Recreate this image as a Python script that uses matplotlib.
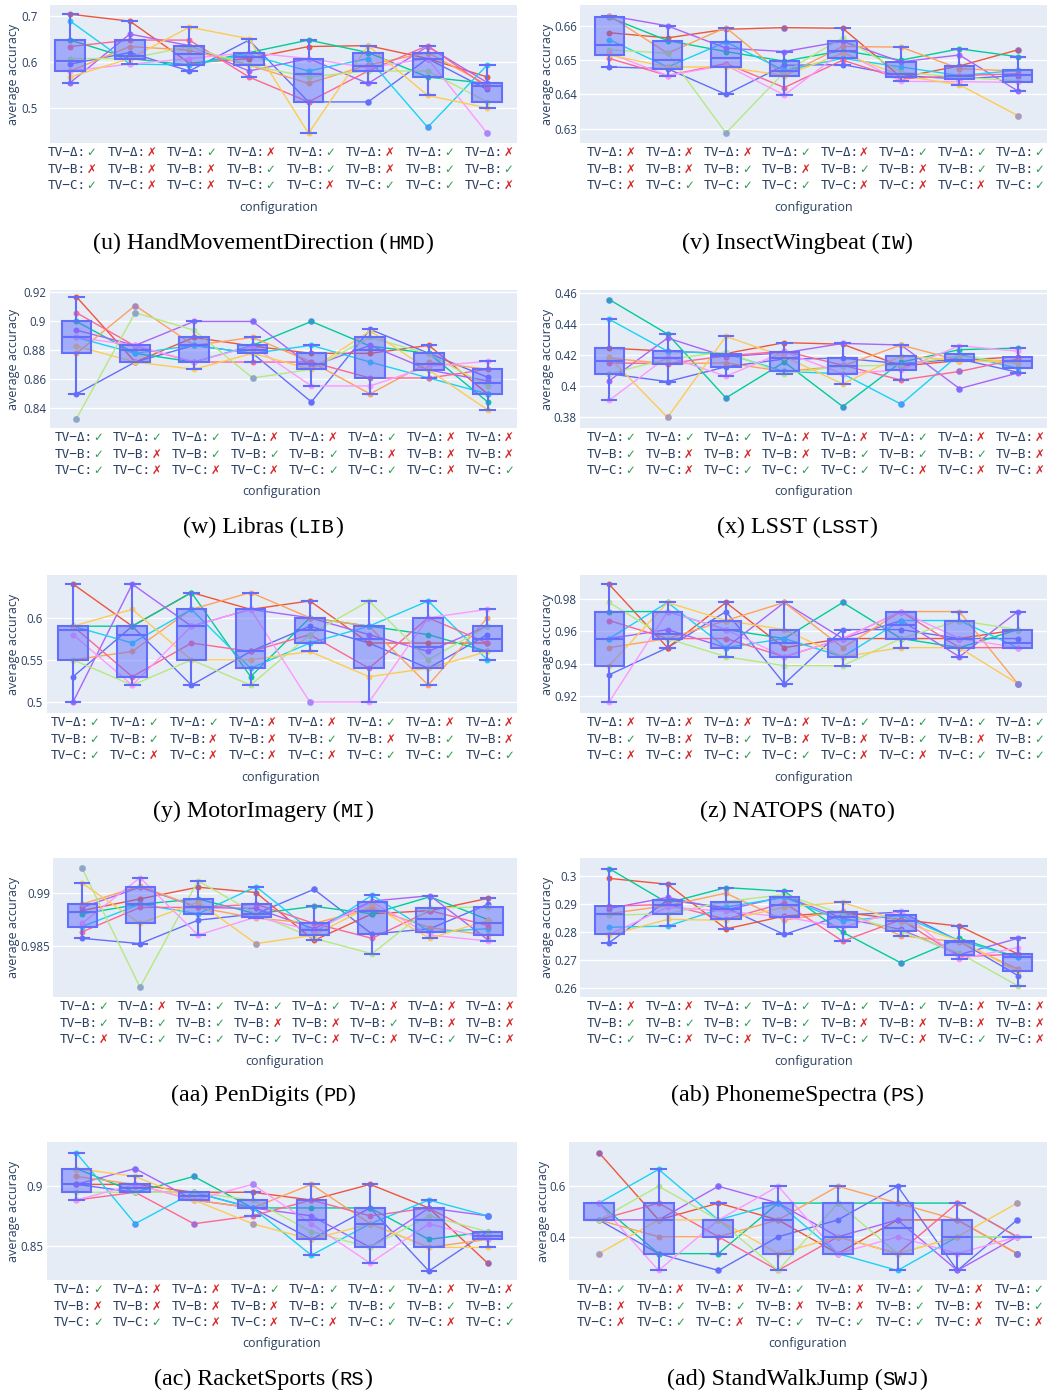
import numpy as np
import matplotlib
matplotlib.use("Agg")
import matplotlib.pyplot as plt

plt.rcParams['font.family'] = ['Open Sans', 'DejaVu Sans']

W, H = 1047, 1397
DPI = 100
PX = 72.0 / DPI  # points per pixel

SERIES_COLORS = ['#636EFA', '#EF553B', '#00CC96', '#AB63FA', '#FFA15A',
                 '#19D3F3', '#FF6692', '#B6E880', '#FF97FF', '#FECB52']
BOX_COLOR = '#636EFA'
TEXT_COLOR = '#2a3f5f'
BG = '#E5ECF6'
CHECK_COLOR = '#2e9e55'
CROSS_COLOR = '#d62728'
ROW_PREFIX = ['TV\u2212\u0394:', 'TV\u2212B:', 'TV\u2212C:']

# ---------------- data (10 runs x 8 configurations per dataset) ----------------
# configuration flags: TV-Δ, TV-B, TV-C  ('1' = ✓, '0' = ✗)
HMD_CFG = ["101", "000", "100", "011", "110", "001", "111", "010"]
HMD_YTICKS = [0.5, 0.6, 0.7]
HMD_YLIM = (0.424, 0.723)
HMD_CAPTION = ("(u) HandMovementDirection (", "HMD", ")")
HMD_VALUES = [
    [0.595, 0.620, 0.580, 0.647, 0.513, 0.513, 0.607, 0.540],
    [0.703, 0.688, 0.597, 0.607, 0.633, 0.635, 0.607, 0.567],
    [0.647, 0.607, 0.593, 0.620, 0.647, 0.620, 0.567, 0.553],
    [0.555, 0.660, 0.635, 0.580, 0.607, 0.553, 0.633, 0.555],
    [0.580, 0.633, 0.625, 0.593, 0.553, 0.593, 0.620, 0.550],
    [0.688, 0.595, 0.593, 0.615, 0.580, 0.607, 0.458, 0.593],
    [0.633, 0.647, 0.647, 0.567, 0.513, 0.580, 0.635, 0.545],
    [0.607, 0.607, 0.633, 0.593, 0.567, 0.580, 0.580, 0.513],
    [0.580, 0.595, 0.607, 0.620, 0.607, 0.587, 0.607, 0.445],
    [0.567, 0.607, 0.675, 0.650, 0.445, 0.635, 0.527, 0.500],
]

IW_CFG = ["000", "001", "011", "101", "010", "100", "110", "111"]
IW_YTICKS = [0.63, 0.64, 0.65, 0.66]
IW_YLIM = (0.6258, 0.6661)
IW_CAPTION = ("(v) InsectWingbeat (", "IW", ")")
IW_VALUES = [
    [0.6480, 0.6475, 0.6400, 0.6485, 0.6487, 0.6455, 0.6445, 0.6455],
    [0.6580, 0.6565, 0.6590, 0.6595, 0.6593, 0.6450, 0.6483, 0.6530],
    [0.6625, 0.6557, 0.6525, 0.6497, 0.6528, 0.6500, 0.6533, 0.6510],
    [0.6630, 0.6600, 0.6535, 0.6525, 0.6555, 0.6495, 0.6515, 0.6410],
    [0.6630, 0.6520, 0.6595, 0.6455, 0.6540, 0.6538, 0.6475, 0.6468],
    [0.6560, 0.6480, 0.6553, 0.6470, 0.6505, 0.6480, 0.6455, 0.6470],
    [0.6505, 0.6455, 0.6490, 0.6420, 0.6500, 0.6445, 0.6455, 0.6460],
    [0.6530, 0.6520, 0.6287, 0.6465, 0.6565, 0.6465, 0.6450, 0.6440],
    [0.6520, 0.6455, 0.6485, 0.6398, 0.6525, 0.6438, 0.6437, 0.6435],
    [0.6515, 0.6480, 0.6480, 0.6455, 0.6520, 0.6455, 0.6428, 0.6338],
]

LIB_CFG = ["111", "100", "110", "010", "011", "101", "000", "001"]
LIB_YTICKS = [0.84, 0.86, 0.88, 0.90, 0.92]
LIB_YLIM = (0.8265, 0.9217)
LIB_CAPTION = ("(w) Libras (", "LIB", ")")
LIB_VALUES = [
    [0.850, 0.872, 0.8835, 0.878, 0.8445, 0.8945, 0.878, 0.8615],
    [0.917, 0.872, 0.889, 0.883, 0.878, 0.878, 0.8835, 0.850],
    [0.900, 0.878, 0.872, 0.8835, 0.900, 0.883, 0.878, 0.8445],
    [0.894, 0.8835, 0.900, 0.900, 0.869, 0.8835, 0.8665, 0.859],
    [0.878, 0.911, 0.8835, 0.889, 0.872, 0.850, 0.872, 0.867],
    [0.889, 0.878, 0.8835, 0.878, 0.8835, 0.872, 0.861, 0.850],
    [0.906, 0.883, 0.872, 0.872, 0.872, 0.861, 0.861, 0.867],
    [0.833, 0.906, 0.894, 0.861, 0.867, 0.889, 0.8775, 0.8555],
    [0.889, 0.8835, 0.872, 0.883, 0.8555, 0.8555, 0.869, 0.8725],
    [0.883, 0.872, 0.867, 0.878, 0.867, 0.8935, 0.8665, 0.839],
]

LSST_CFG = ["111", "100", "101", "001", "011", "110", "010", "000"]
LSST_YTICKS = [0.38, 0.40, 0.42, 0.44, 0.46]
LSST_YLIM = (0.3732, 0.4618)
LSST_CAPTION = ("(x) LSST (", "LSST", ")")
LSST_VALUES = [
    [0.4080, 0.4030, 0.4125, 0.4175, 0.4180, 0.4145, 0.4175, 0.4090],
    [0.4245, 0.4225, 0.4210, 0.4280, 0.4270, 0.4130, 0.4165, 0.4190],
    [0.4557, 0.4335, 0.3925, 0.4155, 0.3870, 0.4155, 0.4235, 0.4245],
    [0.4035, 0.4310, 0.4190, 0.4215, 0.4275, 0.4265, 0.3985, 0.4085],
    [0.4180, 0.4145, 0.4150, 0.4095, 0.4130, 0.4265, 0.4165, 0.4165],
    [0.4430, 0.4225, 0.4210, 0.4095, 0.4080, 0.3885, 0.4205, 0.4115],
    [0.4150, 0.4145, 0.4195, 0.4225, 0.4135, 0.4040, 0.4095, 0.4175],
    [0.4080, 0.4175, 0.4220, 0.4080, 0.4130, 0.4135, 0.4195, 0.4145],
    [0.3910, 0.4190, 0.4065, 0.4220, 0.4080, 0.4105, 0.4260, 0.4225],
    [0.4185, 0.3800, 0.4320, 0.4190, 0.4015, 0.4195, 0.4165, 0.4155],
]

MI_CFG = ["111", "110", "100", "000", "010", "101", "011", "001"]
MI_YTICKS = [0.5, 0.55, 0.6]
MI_YLIM = (0.4869, 0.6508)
MI_CAPTION = ("(y) MotorImagery (", "MI", ")")
MI_VALUES = [
    [0.53, 0.59, 0.52, 0.56, 0.59, 0.57, 0.54, 0.58],
    [0.64, 0.59, 0.63, 0.61, 0.62, 0.57, 0.57, 0.57],
    [0.59, 0.59, 0.63, 0.53, 0.60, 0.59, 0.58, 0.56],
    [0.50, 0.64, 0.59, 0.61, 0.60, 0.58, 0.56, 0.59],
    [0.55, 0.56, 0.61, 0.63, 0.60, 0.59, 0.52, 0.60],
    [0.59, 0.57, 0.61, 0.54, 0.57, 0.59, 0.62, 0.55],
    [0.59, 0.53, 0.57, 0.56, 0.58, 0.54, 0.60, 0.57],
    [0.55, 0.52, 0.55, 0.52, 0.58, 0.62, 0.55, 0.59],
    [0.58, 0.52, 0.59, 0.61, 0.50, 0.50, 0.60, 0.61],
    [0.59, 0.61, 0.55, 0.55, 0.56, 0.53, 0.54, 0.56],
]

NATO_CFG = ["010", "000", "011", "001", "100", "110", "101", "111"]
NATO_YTICKS = [0.92, 0.94, 0.96, 0.98]
NATO_YLIM = (0.9098, 0.9947)
NATO_CAPTION = ("(z) NATOPS (", "NATO", ")")
NATO_VALUES = [
    [0.9333, 0.9500, 0.9722, 0.9278, 0.9611, 0.9611, 0.9556, 0.9556],
    [0.9889, 0.9500, 0.9778, 0.9500, 0.9556, 0.9556, 0.9556, 0.9611],
    [0.9722, 0.9722, 0.9611, 0.9556, 0.9778, 0.9556, 0.9500, 0.9611],
    [0.9556, 0.9611, 0.9500, 0.9778, 0.9556, 0.9667, 0.9444, 0.9722],
    [0.9500, 0.9556, 0.9667, 0.9778, 0.9500, 0.9722, 0.9722, 0.9278],
    [0.9556, 0.9778, 0.9500, 0.9556, 0.9444, 0.9667, 0.9667, 0.9500],
    [0.9667, 0.9556, 0.9556, 0.9444, 0.9556, 0.9722, 0.9500, 0.9500],
    [0.9778, 0.9556, 0.9444, 0.9389, 0.9389, 0.9556, 0.9667, 0.9611],
    [0.9167, 0.9722, 0.9611, 0.9444, 0.9556, 0.9722, 0.9556, 0.9500],
    [0.9389, 0.9778, 0.9667, 0.9611, 0.9444, 0.9500, 0.9500, 0.9278],
]

PD_CFG = ["110", "011", "111", "101", "100", "010", "001", "000"]
PD_YTICKS = [0.985, 0.99]
PD_YLIM = (0.98019, 0.99324)
PD_CAPTION = ("(aa) PenDigits (", "PD", ")")
PD_VALUES = [
    [0.9857, 0.9852, 0.9874, 0.9880, 0.9903, 0.9861, 0.9866, 0.98890],
    [0.9883, 0.9894, 0.9905, 0.9900, 0.9855, 0.9880, 0.9883, 0.98945],
    [0.9880, 0.9889, 0.9894, 0.9880, 0.9887, 0.9880, 0.9896, 0.98745],
    [0.9886, 0.9905, 0.9886, 0.9885, 0.9866, 0.9892, 0.9897, 0.98555],
    [0.9889, 0.9906, 0.9886, 0.9876, 0.9871, 0.9885, 0.9867, 0.98600],
    [0.9868, 0.9889, 0.9880, 0.99055, 0.9862, 0.98975, 0.9863, 0.98660],
    [0.9863, 0.9886, 0.9886, 0.9889, 0.9871, 0.9857, 0.9883, 0.98690],
    [0.9923, 0.9811, 0.9911, 0.9880, 0.9857, 0.98425, 0.98855, 0.98865],
    [0.9871, 0.9914, 0.9860, 0.9877, 0.9864, 0.9891, 0.9860, 0.98545],
    [0.9909, 0.9871, 0.9891, 0.9852, 0.9860, 0.9888, 0.9857, 0.98740],
]

PS_CFG = ["011", "010", "110", "111", "101", "100", "001", "000"]
PS_YTICKS = [0.26, 0.27, 0.28, 0.29, 0.30]
PS_YLIM = (0.2568, 0.3066)
PS_CAPTION = ("(ab) PhonemeSpectra (", "PS", ")")
PS_VALUES = [
    [0.2763, 0.2915, 0.2888, 0.2792, 0.2862, 0.2872, 0.2768, 0.2645],
    [0.2993, 0.2972, 0.2812, 0.2858, 0.2872, 0.2845, 0.2822, 0.2722],
    [0.3028, 0.2905, 0.2960, 0.2947, 0.2800, 0.2690, 0.2778, 0.2710],
    [0.2885, 0.2925, 0.2880, 0.2928, 0.2850, 0.2810, 0.2720, 0.2778],
    [0.2867, 0.2895, 0.2940, 0.2843, 0.2877, 0.2788, 0.2765, 0.2668],
    [0.2818, 0.2822, 0.2890, 0.2925, 0.2840, 0.2860, 0.2770, 0.2710],
    [0.2893, 0.2900, 0.2846, 0.2905, 0.2768, 0.2845, 0.2712, 0.2722],
    [0.2861, 0.2866, 0.2910, 0.2935, 0.2865, 0.2803, 0.2725, 0.2608],
    [0.2792, 0.2890, 0.2875, 0.2855, 0.2818, 0.2877, 0.2705, 0.2745],
    [0.2790, 0.2846, 0.2843, 0.2890, 0.2907, 0.2838, 0.2770, 0.2660],
]

RS_CFG = ["101", "001", "000", "100", "110", "111", "010", "011"]
RS_YTICKS = [0.85, 0.9]
RS_YLIM = (0.8214, 0.9367)
RS_CAPTION = ("(ac) RacketSports (", "RS", ")")
RS_VALUES = [
    [0.9013, 0.8947, 0.8947, 0.8816, 0.8553, 0.8816, 0.8289, 0.8618],
    [0.9013, 0.9013, 0.8947, 0.8947, 0.8882, 0.9013, 0.8816, 0.8355],
    [0.9145, 0.8947, 0.9079, 0.8816, 0.8816, 0.8816, 0.8553, 0.8618],
    [0.9013, 0.9145, 0.8882, 0.8816, 0.8750, 0.8487, 0.8816, 0.8750],
    [0.9079, 0.9013, 0.8882, 0.8816, 0.9013, 0.8684, 0.8487, 0.8553],
    [0.9276, 0.8684, 0.8947, 0.8816, 0.8421, 0.8684, 0.8882, 0.8750],
    [0.8882, 0.8947, 0.8684, 0.8750, 0.8882, 0.8750, 0.8816, 0.8553],
    [0.8947, 0.8947, 0.8947, 0.8882, 0.8618, 0.8487, 0.8750, 0.8618],
    [0.8882, 0.9013, 0.8882, 0.9013, 0.8684, 0.8355, 0.8684, 0.8553],
    [0.9145, 0.9079, 0.8882, 0.8684, 0.8553, 0.8684, 0.8487, 0.8487],
]

SWJ_CFG = ["100", "011", "010", "101", "001", "111", "000", "110"]
SWJ_YTICKS = [0.4, 0.6]
SWJ_YLIM = (0.229, 0.775)
SWJ_CAPTION = ("(ad) StandWalkJump (", "SWJ", ")")
SWJ_VALUES = [
    [0.4667, 0.3333, 0.2667, 0.4000, 0.4667, 0.6000, 0.2667, 0.4667],
    [0.7333, 0.4667, 0.5333, 0.4667, 0.3333, 0.4667, 0.4667, 0.3333],
    [0.5333, 0.3333, 0.3333, 0.5333, 0.5333, 0.5333, 0.5333, 0.4000],
    [0.4667, 0.4667, 0.6000, 0.5333, 0.4000, 0.4667, 0.2667, 0.4000],
    [0.4667, 0.4000, 0.4000, 0.4667, 0.6000, 0.5333, 0.4667, 0.3333],
    [0.5333, 0.6667, 0.4667, 0.5333, 0.3333, 0.2667, 0.4000, 0.4000],
    [0.4667, 0.5333, 0.4000, 0.2667, 0.4000, 0.3333, 0.5333, 0.4000],
    [0.4667, 0.6000, 0.4667, 0.2667, 0.5333, 0.3333, 0.4000, 0.4000],
    [0.5333, 0.2667, 0.4667, 0.6000, 0.3333, 0.4000, 0.3333, 0.4000],
    [0.3333, 0.4667, 0.4667, 0.3333, 0.4000, 0.3333, 0.4000, 0.5333],
]

# ---------------- layout (pixels, y from top) ----------------
PANELS = [
    dict(values=HMD_VALUES, cfg=HMD_CFG, ticks=HMD_YTICKS, ylim=HMD_YLIM, caption=HMD_CAPTION,
         box=(50, 517, 5, 143), xlim=(-0.34, 7.5), ylab_x=14, ypad=12, cap_x=263, cap_y=249),
    dict(values=IW_VALUES, cfg=IW_CFG, ticks=IW_YTICKS, ylim=IW_YLIM, caption=IW_CAPTION,
         box=(580, 1047, 5, 143), xlim=(-0.5, 7.5), ylab_x=547, ypad=3, cap_x=797, cap_y=249),
    dict(values=LIB_VALUES, cfg=LIB_CFG, ticks=LIB_YTICKS, ylim=LIB_YLIM, caption=LIB_CAPTION,
         box=(50, 517, 290, 428), xlim=(-0.45, 7.5), ylab_x=14, ypad=4, cap_x=263, cap_y=533),
    dict(values=LSST_VALUES, cfg=LSST_CFG, ticks=LSST_YTICKS, ylim=LSST_YLIM, caption=LSST_CAPTION,
         box=(580, 1047, 290, 428), xlim=(-0.5, 7.5), ylab_x=547, ypad=3, cap_x=797, cap_y=533),
    dict(values=MI_VALUES, cfg=MI_CFG, ticks=MI_YTICKS, ylim=MI_YLIM, caption=MI_CAPTION,
         box=(47, 517, 575, 713), xlim=(-0.44, 7.5), ylab_x=14, ypad=4, cap_x=263, cap_y=817),
    dict(values=NATO_VALUES, cfg=NATO_CFG, ticks=NATO_YTICKS, ylim=NATO_YLIM, caption=NATO_CAPTION,
         box=(580, 1047, 575, 713), xlim=(-0.5, 7.5), ylab_x=547, ypad=3, cap_x=797, cap_y=817),
    dict(values=PD_VALUES, cfg=PD_CFG, ticks=PD_YTICKS, ylim=PD_YLIM, caption=PD_CAPTION,
         box=(53, 517, 858, 997), xlim=(-0.5, 7.5), ylab_x=14, ypad=3, cap_x=263, cap_y=1101),
    dict(values=PS_VALUES, cfg=PS_CFG, ticks=PS_YTICKS, ylim=PS_YLIM, caption=PS_CAPTION,
         box=(580, 1047, 858, 997), xlim=(-0.5, 7.5), ylab_x=547, ypad=3, cap_x=797, cap_y=1101),
    dict(values=RS_VALUES, cfg=RS_CFG, ticks=RS_YTICKS, ylim=RS_YLIM, caption=RS_CAPTION,
         box=(47, 517, 1142, 1280), xlim=(-0.5, 7.5), ylab_x=14, ypad=4, cap_x=263, cap_y=1385),
    dict(values=SWJ_VALUES, cfg=SWJ_CFG, ticks=SWJ_YTICKS, ylim=SWJ_YLIM, caption=SWJ_CAPTION,
         box=(569, 1047, 1142, 1280), xlim=(-0.5, 7.5), ylab_x=544, ypad=3, cap_x=797, cap_y=1385),
]

fig = plt.figure(figsize=(W / DPI, H / DPI), dpi=DPI)
fig.patch.set_facecolor('white')
renderer = fig.canvas.get_renderer()

BOX_FILL = (99 / 255, 110 / 255, 250 / 255, 0.5)


def box_stats(col):
    v = np.sort(np.asarray(col, dtype=float))
    q1, med, q3 = np.percentile(v, [25, 50, 75], method='hazen')
    iqr = q3 - q1
    lo_f, hi_f = q1 - 1.5 * iqr - 1e-9, q3 + 1.5 * iqr + 1e-9
    inside = v[(v >= lo_f) & (v <= hi_f)]
    return dict(med=med, q1=q1, q3=q3, whislo=inside.min(), whishi=inside.max(),
                fliers=v[(v < lo_f) | (v > hi_f)])


def caption(cx, base_y, parts):
    props = [dict(family='Liberation Serif', size=17.3),
             dict(family='Liberation Mono', size=14.8, weight='light'),
             dict(family='Liberation Serif', size=17.3)]
    texts = [fig.text(0, 0, s, va='baseline', ha='left', color='black', **pr)
             for s, pr in zip(parts, props)]
    widths = [t.get_window_extent(renderer).width for t in texts]
    x = cx - sum(widths) / 2
    for t, w in zip(texts, widths):
        t.set_position((x / W, 1 - base_y / H))
        x += w


for p in PANELS:
    L, R, T, B = p['box']
    ax = fig.add_axes([L / W, 1 - B / H, (R - L) / W, (B - T) / H])
    ax.set_facecolor(BG)
    for s in ax.spines.values():
        s.set_visible(False)
    vals = np.asarray(p['values'], dtype=float)
    xs = np.arange(vals.shape[1])

    for k in range(vals.shape[0]):
        ax.plot(xs, vals[k], color=SERIES_COLORS[k], lw=1.0, marker='o', ms=4.3,
                markeredgewidth=0, zorder=2)

    stats = [box_stats(vals[:, i]) for i in range(vals.shape[1])]
    ax.bxp(stats, positions=xs, widths=0.5, capwidths=0.25, patch_artist=True,
           showfliers=True, manage_ticks=False, zorder=3,
           boxprops=dict(facecolor=BOX_FILL, edgecolor=BOX_COLOR, linewidth=1.5),
           medianprops=dict(color=BOX_COLOR, linewidth=1.5),
           whiskerprops=dict(color=BOX_COLOR, linewidth=1.5),
           capprops=dict(color=BOX_COLOR, linewidth=1.5),
           flierprops=dict(marker='o', markerfacecolor=BOX_FILL, markeredgewidth=0,
                           markersize=5))

    ax.set_xlim(*p['xlim'])
    ax.set_ylim(*p['ylim'])
    ax.set_xticks([])
    ax.set_yticks(p['ticks'])
    ax.set_yticklabels(['{:g}'.format(t) for t in p['ticks']])
    ax.tick_params(axis='y', length=0, pad=p['ypad'] * PX, labelsize=8.3, labelcolor=TEXT_COLOR)
    ax.yaxis.grid(True, color='white', linewidth=1.0)
    ax.set_axisbelow(True)

    tr = ax.get_xaxis_transform()
    for i, flags in enumerate(p['cfg']):
        for r in range(3):
            dy = -(9.5 + 16.6 * r) * PX
            ax.annotate(ROW_PREFIX[r], xy=(i, 0), xycoords=tr, xytext=(11.5, dy),
                        textcoords='offset points', ha='right', va='center',
                        family=['DejaVu Sans Mono', 'DejaVu Sans'], size=9.2,
                        color=TEXT_COLOR, annotation_clip=False)
            ok = flags[r] == '1'
            ax.annotate('\u2713' if ok else '\u2717', xy=(i, 0), xycoords=tr,
                        xytext=(11.8, dy), textcoords='offset points', ha='left', va='center',
                        family=['DejaVu Sans', 'DejaVu Sans Mono'], size=8.5,
                        color=CHECK_COLOR if ok else CROSS_COLOR, annotation_clip=False)

    ax.annotate('configuration', xy=(3.5, 0), xycoords=tr, xytext=(0, -64 * PX),
                textcoords='offset points', ha='center', va='center', size=9,
                color=TEXT_COLOR, annotation_clip=False)

    fig.text(p['ylab_x'] / W, 1 - ((T + B) / 2) / H, 'average accuracy', rotation=90,
             ha='center', va='center', size=9, color=TEXT_COLOR)

    caption(p['cap_x'], p['cap_y'], p['caption'])

fig.savefig('out.png', dpi=DPI, facecolor='white')
